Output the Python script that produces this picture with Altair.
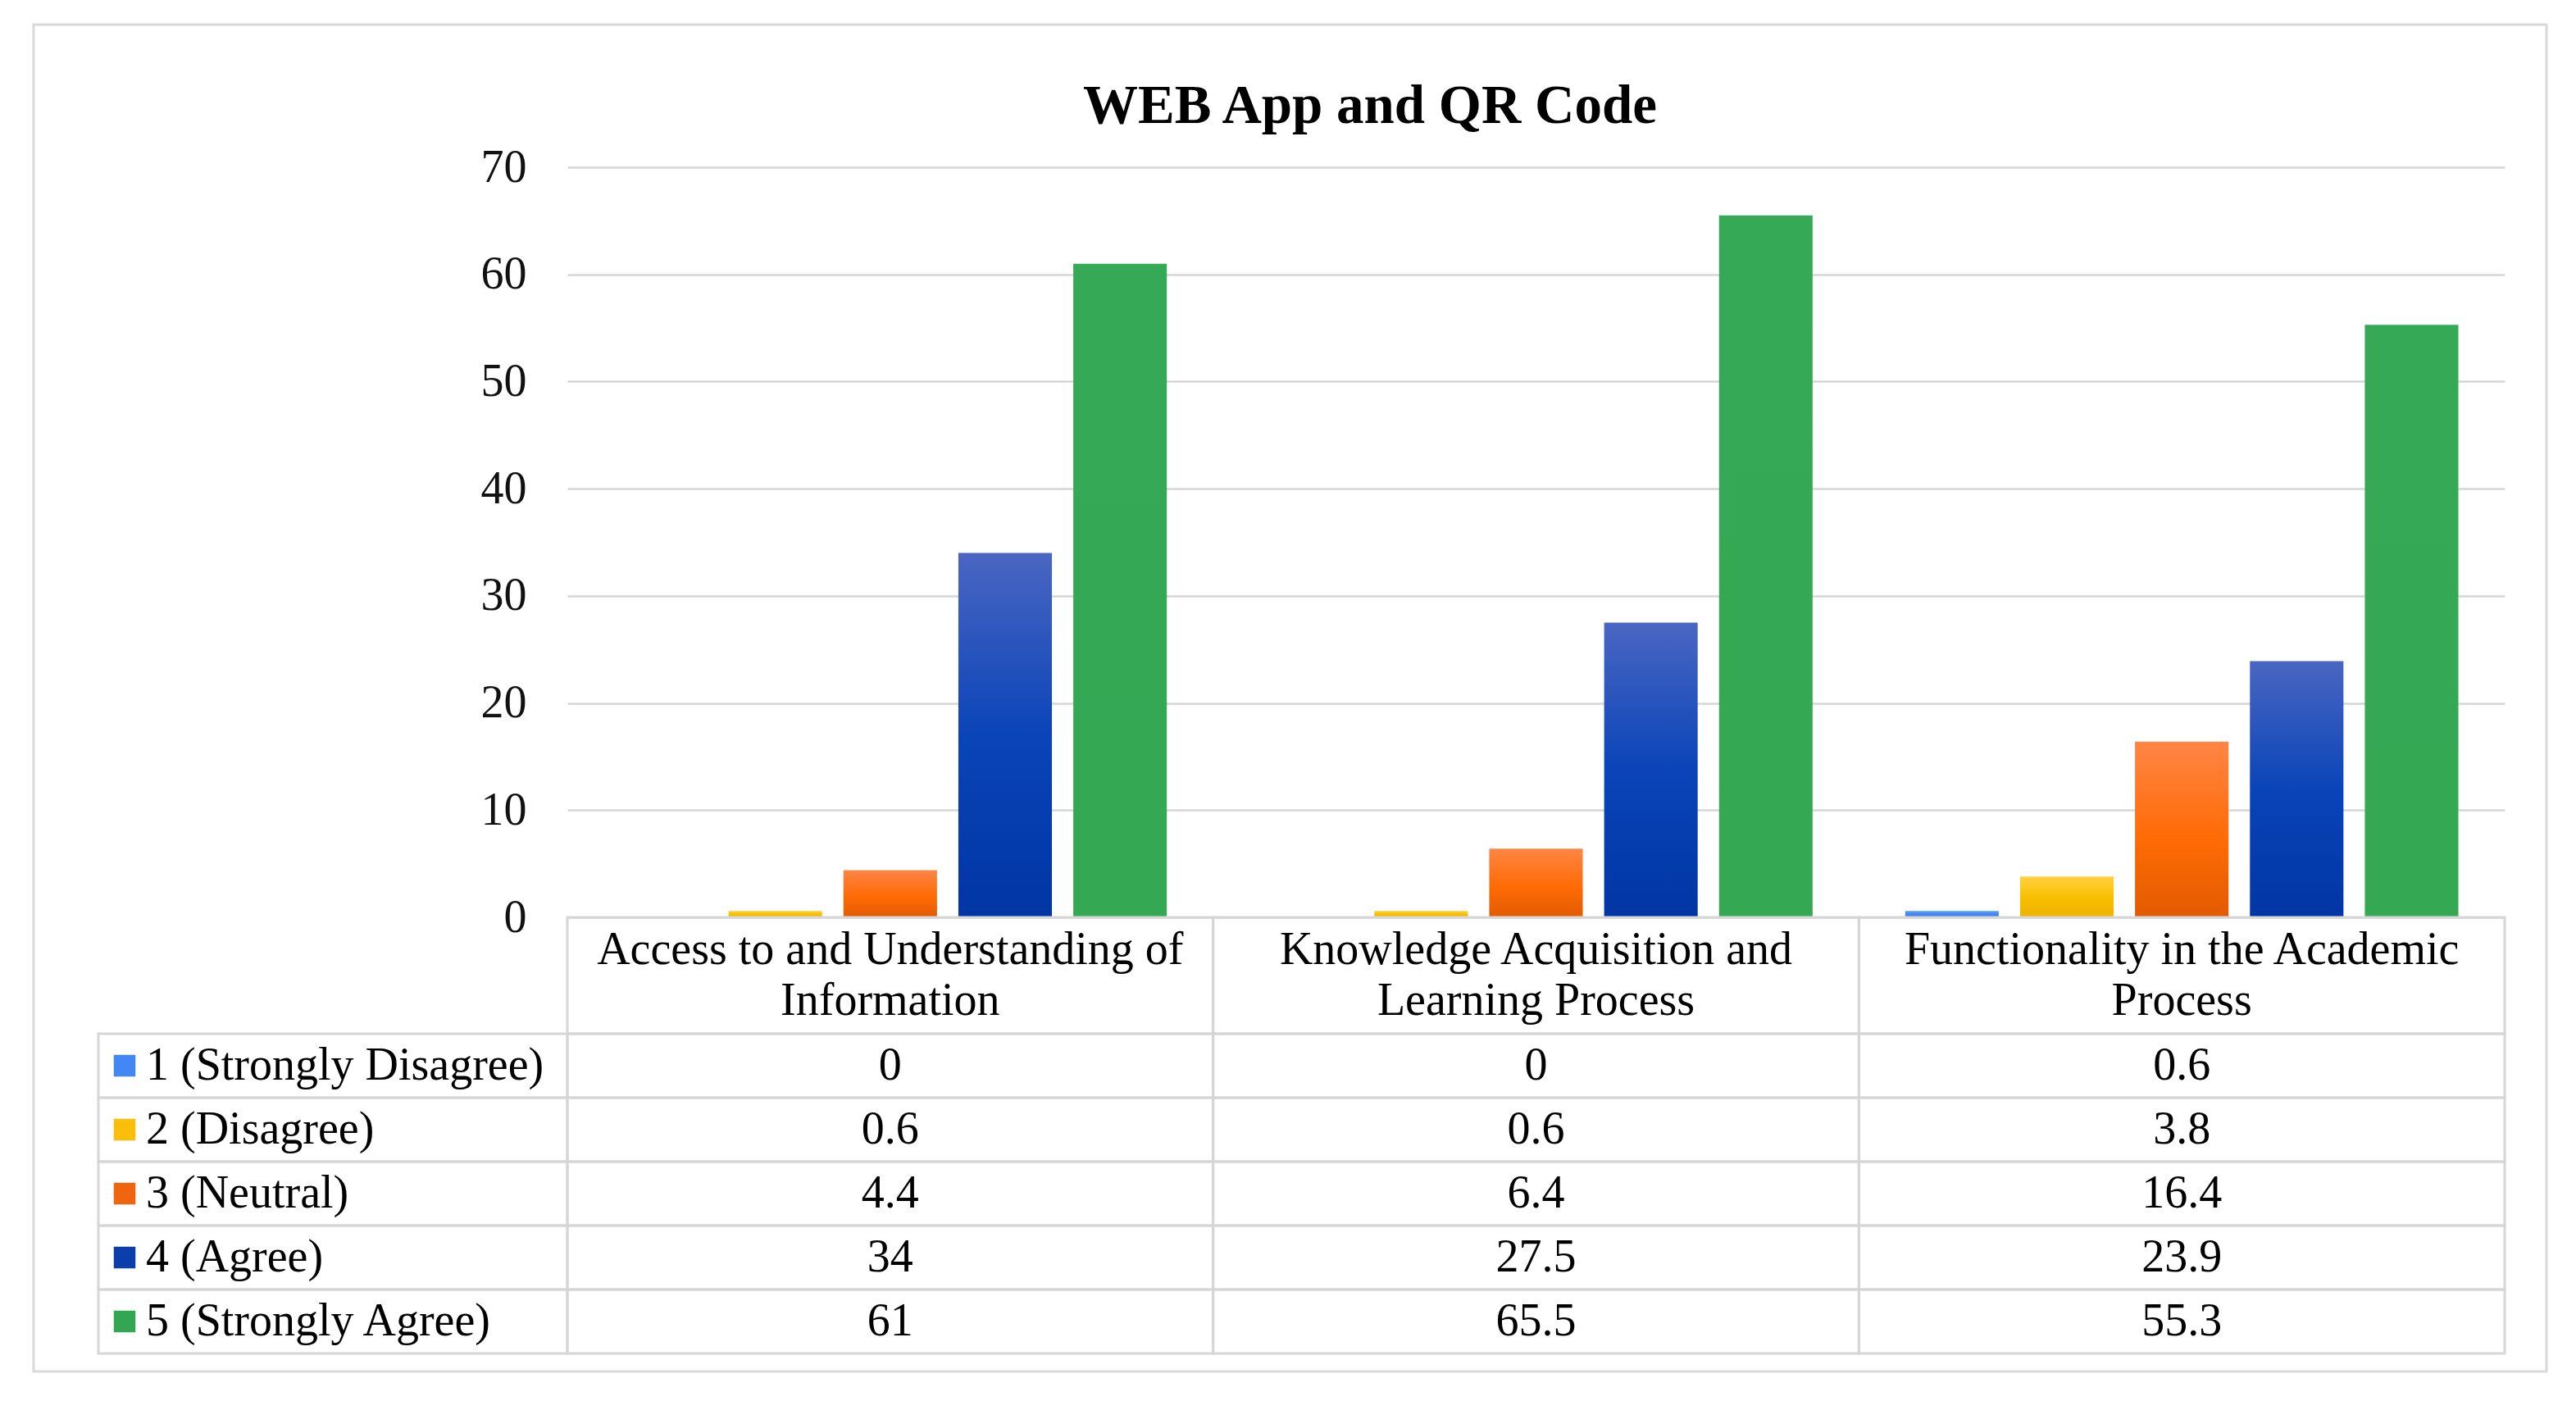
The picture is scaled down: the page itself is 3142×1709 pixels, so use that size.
import altair as alt
import pandas as pd

title = "WEB App and QR Code"
categories = [
    "Access to and Understanding of Information",
    "Knowledge Acquisition and Learning Process",
    "Functionality in the Academic Process",
]
category_lines = [
    "Access to and Understanding of\nInformation",
    "Knowledge Acquisition and\nLearning Process",
    "Functionality in the Academic\nProcess",
]
series = ["1 (Strongly Disagree)", "2 (Disagree)", "3 (Neutral)", "4 (Agree)", "5 (Strongly Agree)"]
s1 = [0, 0, 0.6]
s2 = [0.6, 0.6, 3.8]
s3 = [4.4, 6.4, 16.4]
s4 = [34, 27.5, 23.9]
s5 = [61, 65.5, 55.3]
y_ticks = [0, 10, 20, 30, 40, 50, 60, 70]

swatch_colors = ["#4287f5", "#fbbf0a", "#f2650f", "#0a3eab", "#32a653"]
gradients = [
    [("#5e9ffa", 0), ("#2f73e6", 1)],
    [("#ffd23e", 0), ("#f9c000", 0.5), ("#eeb300", 1)],
    [("#ff8545", 0), ("#ff6b05", 0.55), ("#e25b00", 1)],
    [("#4a66c2", 0), ("#0a44b8", 0.5), ("#0035a4", 1)],
    [("#35a955", 0), ("#34a853", 1)],
]

FONT = "Liberation Serif"
LINE = "#d6d6d6"
W, H = 2363, 915
HEAD_H, ROW_H = 142, 78
HEAD_LH = 62

rows = []
for s, vals in zip(series, [s1, s2, s3, s4, s5]):
    for c, v in zip(categories, vals):
        rows.append({"category": c, "series": s, "value": v, "label": f"{v:g}"})
df = pd.DataFrame(rows)
head_df = pd.DataFrame({"category": categories, "header": category_lines})
series_df = pd.DataFrame({"series": series})
one = pd.DataFrame({"t": [title]})

x_scale = alt.Scale(domain=categories, paddingInner=0, paddingOuter=0)
xs = alt.X("category:N", scale=x_scale, axis=None, sort=categories)
xo = alt.XOffset("series:N", scale=alt.Scale(domain=series, paddingInner=0.186, paddingOuter=0.403), sort=series)
yq = alt.Y(
    "value:Q",
    scale=alt.Scale(domain=[0, 70], nice=False),
    axis=alt.Axis(
        values=y_ticks, title=None, domain=False, ticks=False, labelPadding=50,
        labelFont=FONT, labelFontSize=56, labelColor="#111111",
        gridColor=LINE, gridWidth=2.5,
    ),
)

bars = []
for s, stops in zip(series, gradients):
    grad = alt.LinearGradient(
        gradient="linear",
        stops=[alt.GradientStop(color=c, offset=o) for c, o in stops],
        x1=0, x2=0, y1=0, y2=1,
    )
    bars.append(
        alt.Chart(df).transform_filter(alt.datum.series == s)
        .mark_bar(color=grad)
        .encode(x=xs, xOffset=xo, y=yq)
    )

border = alt.Chart(one).mark_rect(fillOpacity=0, stroke="#d9d9d9", strokeWidth=3).encode(
    x=alt.value(-651), x2=alt.value(2414), y=alt.value(-174), y2=alt.value(1469)
)
title_mark = alt.Chart(one).mark_text(
    font=FONT, fontSize=67, fontWeight="bold", align="center", baseline="alphabetic", color="#000000"
).encode(x=alt.value(979), y=alt.value(-54), text="t:N")

top = alt.layer(border, *bars, title_mark).properties(width=W, height=H)

# header row
header_cells = alt.Chart(head_df).mark_rect(fillOpacity=0, stroke=LINE, strokeWidth=3).encode(
    x=xs, y=alt.value(0), y2=alt.value(HEAD_H)
)
header_text = alt.Chart(head_df).mark_text(
    font=FONT, fontSize=56, lineBreak="\n", lineHeight=HEAD_LH, align="center", baseline="middle", color="#000000"
).encode(x=xs, y=alt.value(HEAD_H / 2 - HEAD_LH / 2), text="header:N")
header = alt.layer(header_cells, header_text).properties(width=W, height=HEAD_H)

# data table
ty = alt.Y("series:N", scale=alt.Scale(domain=series, paddingInner=0, paddingOuter=0), axis=None, sort=series)
cells = alt.Chart(df).mark_rect(fillOpacity=0, stroke=LINE, strokeWidth=3).encode(x=xs, y=ty)
label_cells = alt.Chart(series_df).mark_rect(fillOpacity=0, stroke=LINE, strokeWidth=3).encode(
    x=alt.value(-572), x2=alt.value(0), y=ty
)
swatches = alt.Chart(series_df).mark_point(shape="square", filled=True, size=700, opacity=1).encode(
    x=alt.value(-540), y=ty,
    color=alt.Color("series:N", scale=alt.Scale(domain=series, range=swatch_colors), legend=None),
)
row_labels = alt.Chart(series_df).mark_text(
    font=FONT, fontSize=56, align="left", baseline="middle", color="#000000"
).encode(x=alt.value(-514), y=ty, text="series:N")
values = alt.Chart(df).mark_text(
    font=FONT, fontSize=56, align="center", baseline="middle", color="#000000"
).encode(x=xs, y=ty, text="label:N")
table = alt.layer(label_cells, cells, swatches, row_labels, values).properties(
    width=W, height=ROW_H * len(series)
)

chart = (
    alt.vconcat(top, header, table, spacing=0, bounds="flush")
    .resolve_scale(x="independent", y="independent", color="independent")
    .properties(padding={"left": 31, "top": 20, "right": 5, "bottom": 5}, background="white")
    .configure_view(strokeWidth=0)
)

chart.save("out.html", embed_options={"renderer": "svg", "actions": False})
